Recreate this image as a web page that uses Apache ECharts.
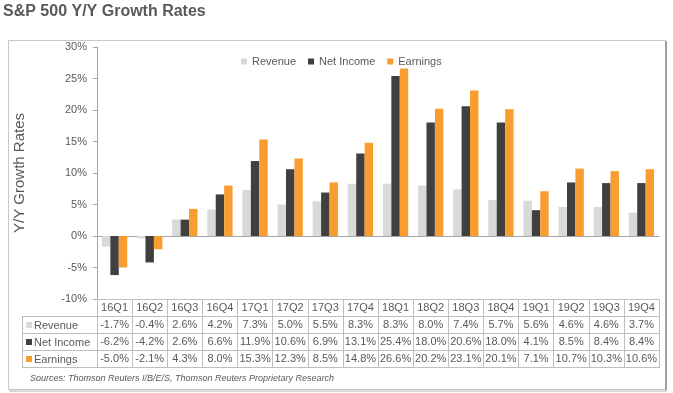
<!DOCTYPE html>
<html><head><meta charset="utf-8">
<script src="https://cdn.jsdelivr.net/npm/echarts@6/dist/echarts.min.js"></script>
<style>html,body{margin:0;padding:0;background:#fff}#c{width:673px;height:393px}</style>
</head><body><div id="c"></div>
<script>
const categories = ['16Q1','16Q2','16Q3','16Q4','17Q1','17Q2','17Q3','17Q4','18Q1','18Q2','18Q3','18Q4','19Q1','19Q2','19Q3','19Q4'];
const revenue   = [-1.7,-0.4,2.6,4.2,7.3,5.0,5.5,8.3,8.3,8.0,7.4,5.7,5.6,4.6,4.6,3.7];
const netIncome = [-6.2,-4.2,2.6,6.6,11.9,10.6,6.9,13.1,25.4,18.0,20.6,18.0,4.1,8.5,8.4,8.4];
const earnings  = [-5.0,-2.1,4.3,8.0,15.3,12.3,8.5,14.8,26.6,20.2,23.1,20.1,7.1,10.7,10.3,10.6];
const seriesNames = ['Revenue','Net Income','Earnings'];
const yTicks = {min:-10, max:30, interval:5};

const colors = ['#d9d9d9','#404040','#f99d31'];
const FONT = 'Liberation Sans';
const TXT = '#595959';
const LINE = '#bfbfbf';
const gridLeft = 97, gridRight = 659, gridTop = 47, gridBottom = 299;
const rowH = 17;
const fmt = v => v.toFixed(1) + '%';
const rowsData = [revenue, netIncome, earnings];

const chart = echarts.init(document.getElementById('c'), null, {renderer:'canvas'});

const xAxes = [
  {type:'category', data:categories, gridIndex:0, axisLine:{onZero:true, lineStyle:{color:'#a6a6a6'}},
   axisTick:{show:false}, axisLabel:{show:false}},
  {type:'category', data:categories, gridIndex:0, position:'bottom', axisLine:{onZero:false, lineStyle:{color:LINE}},
   axisTick:{show:true, interval:0, length: 1 + rowH*4, lineStyle:{color:LINE}},
   axisLabel:{interval:0, margin:3, color:TXT, fontFamily:FONT, fontSize:11}}
];
rowsData.forEach((arr, r) => {
  xAxes.push({type:'category', data:categories, gridIndex:0, position:'bottom', offset: rowH*(r+1),
    axisLine:{show:false}, axisTick:{show:false},
    axisLabel:{interval:0, margin:3, color:TXT, fontFamily:FONT, fontSize:11,
      formatter:(v, i) => fmt(arr[i])}});
});

const graphics = [
  {type:'rect', shape:{x:8.5, y:40.5, width:657, height:349}, style:{fill:null, stroke:'#c8c8c8', lineWidth:1}, silent:true},
  {type:'line', shape:{x1:666, y1:41, x2:666, y2:391}, style:{stroke:'#a0a0a0', lineWidth:2}, silent:true},
  {type:'line', shape:{x1:9, y1:391, x2:667, y2:391}, style:{stroke:'#d8d8d8', lineWidth:2}, silent:true},
  {type:'text', left:3, top:4, style:{text:'S&P 500 Y/Y Growth Rates', font:'bold 16px "'+FONT+'"', fill:TXT}},
  {type:'text', left:30, top:374, style:{text:'Sources: Thomson Reuters I/B/E/S, Thomson Reuters Proprietary Research', font:'italic 9px "'+FONT+'"', fill:TXT}},
  {type:'line', shape:{x1:22.5, y1:gridBottom+rowH, x2:22.5, y2:gridBottom+rowH*4+1}, style:{stroke:LINE, lineWidth:1}},
];
for (let r = 1; r <= 4; r++) {
  const y = Math.round(gridBottom + rowH*r) + 0.5;
  graphics.push({type:'line', shape:{x1:22, y1:y, x2:gridRight, y2:y}, style:{stroke:LINE, lineWidth:1}});
}
seriesNames.forEach((n, r) => {
  const yc = gridBottom + rowH*(r+1) + rowH/2 + 0.5;
  graphics.push({type:'rect', shape:{x:26, y:yc-3, width:6, height:6}, style:{fill:colors[r]}});
  graphics.push({type:'text', x:34, y:yc+0.5, style:{text:n, font:'11px "'+FONT+'"', fill:TXT, verticalAlign:'middle', textVerticalAlign:'middle'}});
});

chart.setOption({
  animation:false,
  textStyle:{fontFamily:FONT},
  grid:{left:gridLeft, right:673-gridRight, top:gridTop, bottom:393-gridBottom, containLabel:false},
  legend:{data:seriesNames, top:51, left:236, icon:'rect', itemWidth:6, itemHeight:6, itemGap:12,
    textStyle:{color:TXT, fontFamily:FONT, fontSize:11}},
  xAxis: xAxes,
  yAxis:{type:'value', min:yTicks.min, max:yTicks.max, interval:yTicks.interval,
    name:'Y/Y Growth Rates', nameLocation:'middle', nameGap:70, nameRotate:90,
    nameTextStyle:{color:TXT, fontFamily:FONT, fontSize:15},
    axisLine:{show:true, lineStyle:{color:'#a6a6a6'}}, axisTick:{show:true, length:4, lineStyle:{color:'#a6a6a6'}},
    splitLine:{show:false},
    axisLabel:{color:TXT, fontFamily:FONT, fontSize:11, margin:10, formatter: v => v + '%'}},
  series: rowsData.map((arr, r) => ({
    name:seriesNames[r], type:'bar', xAxisIndex:0, data:arr, barGap:'0%', barCategoryGap:'28%',
    itemStyle:{color:colors[r]}
  })),
  graphic: graphics
});
</script></body></html>
